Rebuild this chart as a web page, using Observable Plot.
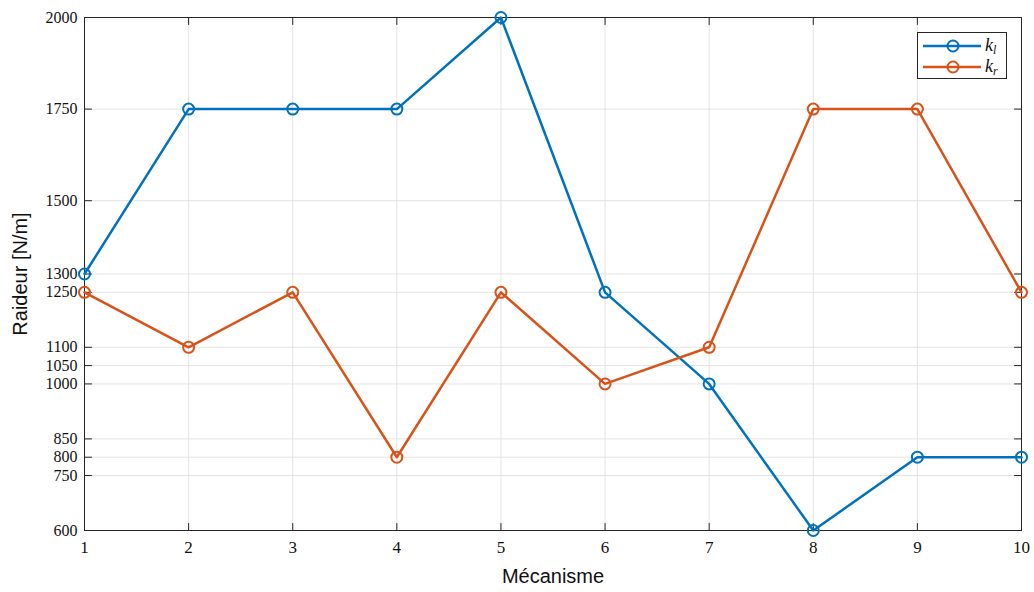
<!DOCTYPE html>
<html>
<head>
<meta charset="utf-8">
<script src="https://cdn.jsdelivr.net/npm/d3@7"></script>
<script src="https://cdn.jsdelivr.net/npm/@observablehq/plot@0.6"></script>
<style>
  html, body { margin: 0; padding: 0; background: #fff; }
  #wrap { position: relative; width: 1034px; height: 592px; }
  #legend {
    position: absolute; left: 917px; top: 32px; width: 90px; height: 47px;
    border: 1px solid #262626; background: #fff; box-sizing: border-box;
    font-family: "Liberation Serif", "DejaVu Serif", serif; font-size: 18px;
  }
  .row { position: absolute; left: 0; height: 20px; width: 100%; }
  .row svg { position: absolute; left: 5px; top: 0; }
  .row span { position: absolute; left: 67px; top: -1px; font-style: italic; line-height: 20px; color: #111; }
  .row sub { font-size: 12px; vertical-align: -3px; }
</style>
</head>
<body>
<div id="wrap"></div>
<script>
const mecanismes = [1, 2, 3, 4, 5, 6, 7, 8, 9, 10];
const kl = [1300, 1750, 1750, 1750, 2000, 1250, 1000, 600, 800, 800];
const kr = [1250, 1100, 1250, 800, 1250, 1000, 1100, 1750, 1750, 1250];
const yTicks = [600, 750, 800, 850, 1000, 1050, 1100, 1250, 1300, 1500, 1750, 2000];
const xTicks = [1, 2, 3, 4, 5, 6, 7, 8, 9, 10];
const xLabel = "Mécanisme";
const yLabel = "Raideur [N/m]";
const blue = "#0072BD";
const orange = "#D95319";

const dataL = mecanismes.map((m, i) => ({x: m, y: kl[i]}));
const dataR = mecanismes.map((m, i) => ({x: m, y: kr[i]}));

const tickShape = { draw(context, l) { context.moveTo(0, 0); context.lineTo(0, -l); } };
const serif = "Liberation Serif, DejaVu Serif, serif";
const sans = "Liberation Sans, Arial, sans-serif";
const axisColor = "#262626";

const chart = Plot.plot({
  width: 1034,
  height: 592,
  marginLeft: 84,
  marginRight: 13,
  marginTop: 17,
  marginBottom: 62,
  style: { background: "#fff", color: "#111" },
  x: { domain: [1, 10] },
  y: { domain: [600, 2000] },
  marks: [
    Plot.gridX(xTicks, { stroke: "#e3e3e3", strokeOpacity: 1, strokeWidth: 1 }),
    Plot.gridY(yTicks, { stroke: "#e3e3e3", strokeOpacity: 1, strokeWidth: 1 }),
    Plot.axisY(yTicks, { tickSize: 0, tickPadding: 7, fontSize: 16, fontFamily: serif, label: null, tickFormat: d => String(d), fill: "#111" }),
    Plot.axisX(xTicks, { tickSize: 0, tickPadding: 10, fontSize: 17, fontFamily: serif, label: null, tickFormat: d => String(d), fill: "#111" }),
    Plot.vector(yTicks, { x: 1, y: d => d, rotate: 90, length: 7, anchor: "start", shape: tickShape, stroke: axisColor, strokeWidth: 1 }),
    Plot.vector(yTicks, { x: 10, y: d => d, rotate: 270, length: 7, anchor: "start", shape: tickShape, stroke: axisColor, strokeWidth: 1 }),
    Plot.vector(xTicks, { x: d => d, y: 600, rotate: 0, length: 7, anchor: "start", shape: tickShape, stroke: axisColor, strokeWidth: 1 }),
    Plot.vector(xTicks, { x: d => d, y: 2000, rotate: 180, length: 7, anchor: "start", shape: tickShape, stroke: axisColor, strokeWidth: 1 }),
    Plot.frame({ stroke: axisColor, strokeWidth: 1 }),
    Plot.line(dataL, { x: "x", y: "y", stroke: blue, strokeWidth: 2.5 }),
    Plot.dot(dataL, { x: "x", y: "y", stroke: blue, strokeWidth: 2, r: 5.5, fill: "none" }),
    Plot.line(dataR, { x: "x", y: "y", stroke: orange, strokeWidth: 2.5 }),
    Plot.dot(dataR, { x: "x", y: "y", stroke: orange, strokeWidth: 2, r: 5.5, fill: "none" }),
    Plot.text([xLabel], { frameAnchor: "bottom", dy: 52, fontSize: 20, fontFamily: sans, fill: "#111", textAnchor: "middle" }),
    Plot.text([yLabel], { frameAnchor: "left", dx: -64, rotate: -90, fontSize: 20, fontFamily: sans, fill: "#111", textAnchor: "middle" })
  ]
});

const wrap = document.getElementById("wrap");
wrap.appendChild(chart);

const legend = document.createElement("div");
legend.id = "legend";
const entries = [
  { color: blue, base: "k", sub: "l", top: 3 },
  { color: orange, base: "k", sub: "r", top: 24 }
];
for (const e of entries) {
  const row = document.createElement("div");
  row.className = "row";
  row.style.top = e.top + "px";
  row.innerHTML = `<svg width="58" height="20"><line x1="0" y1="10" x2="58" y2="10" stroke="${e.color}" stroke-width="2.5"/><circle cx="30" cy="10" r="5.5" fill="none" stroke="${e.color}" stroke-width="2"/></svg><span>${e.base}<sub>${e.sub}</sub></span>`;
  legend.appendChild(row);
}
wrap.appendChild(legend);
</script>
</body>
</html>
